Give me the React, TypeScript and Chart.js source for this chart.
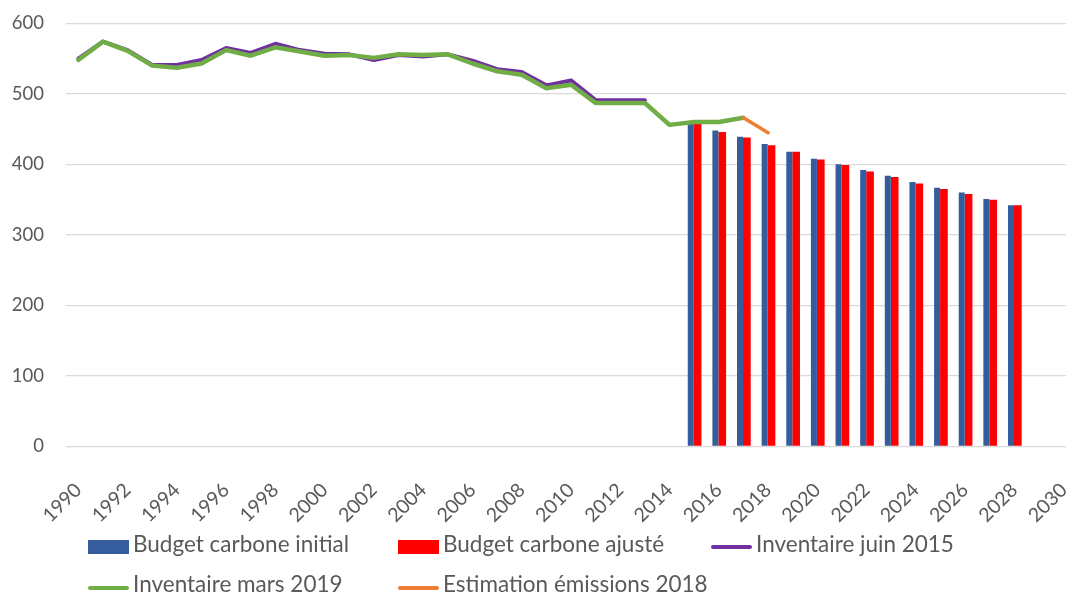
import React, { useEffect, useRef } from 'react';
import { Chart, registerables } from 'chart.js';

Chart.register(...registerables);

const FIRST_YEAR = 1990;
const LAST_YEAR = 2030;
const yearLabels: string[] = [];
for (let y = FIRST_YEAR; y <= LAST_YEAR; y++) yearLabels.push(String(y));

const Y_MIN = 0;
const Y_MAX = 600;
const Y_STEP = 100;

// Budget carbone initial (2015-2028)
const budgetInitialStart = 2015;
const budgetInitial = [458, 448, 439, 429, 418, 408, 400, 392, 384, 375, 367, 360, 351, 342];

// Budget carbone ajusté (2015-2028)
const budgetAjusteStart = 2015;
const budgetAjuste = [458, 446, 438, 427, 418, 407, 399, 390, 382, 373, 365, 358, 350, 342];

// Inventaire juin 2015 (1990-2013)
const inventaire2015Start = 1990;
const inventaire2015 = [
  550, 574, 562, 541, 541, 548, 565, 558, 571, 562, 557, 556,
  548, 555, 553, 556, 547, 535, 531, 512, 519, 491, 491, 491,
];

// Inventaire mars 2019 (1990-2017)
const inventaire2019Start = 1990;
const inventaire2019 = [
  548, 574, 561, 540, 537, 543, 562, 554, 566, 560, 554, 555,
  551, 556, 555, 556, 543, 532, 527, 508, 513, 487, 487, 487,
  456, 460, 460, 466,
];

// Estimation émissions 2018 (2017-2018)
const estimationStart = 2017;
const estimation2018 = [466, 445];

const seriesLabels = [
  'Budget carbone initial',
  'Budget carbone ajusté',
  'Inventaire juin 2015',
  'Inventaire mars 2019',
  'Estimation émissions 2018',
];
const seriesColors = ['#355c9c', '#ff0000', '#7030a0', '#70ad47', '#ed7d31'];

const TEXT_COLOR = '#595959';
const FONT = 'Lato, "Open Sans", sans-serif';

function alignToYears(start: number, values: number[]): (number | null)[] {
  return yearLabels.map((label) => {
    const i = Number(label) - start;
    return i >= 0 && i < values.length ? values[i] : null;
  });
}

const legendItems = [
  { idx: 0, kind: 'box', x: 88, row: 0 },
  { idx: 1, kind: 'box', x: 398, row: 0 },
  { idx: 2, kind: 'line', x: 711, row: 0 },
  { idx: 3, kind: 'line', x: 88, row: 1 },
  { idx: 4, kind: 'line', x: 398, row: 1 },
];
const rowBaseline = [553.3, 593];
const rowMarkerY = [547, 588];

export default function App() {
  const canvasRef = useRef<HTMLCanvasElement | null>(null);

  useEffect(() => {
    if (!canvasRef.current) return;
    const lineBase = {
      type: 'line',
      pointRadius: 0,
      tension: 0,
      borderCapStyle: 'round',
      borderJoinStyle: 'round',
      spanGaps: false,
    };
    const chart = new Chart(canvasRef.current, {
      type: 'bar',
      data: {
        labels: yearLabels,
        datasets: [
          {
            type: 'bar',
            label: seriesLabels[0],
            data: alignToYears(budgetInitialStart, budgetInitial),
            backgroundColor: seriesColors[0],
            categoryPercentage: 0.556,
            barPercentage: 0.876,
            order: 0,
          },
          {
            type: 'bar',
            label: seriesLabels[1],
            data: alignToYears(budgetAjusteStart, budgetAjuste),
            backgroundColor: seriesColors[1],
            categoryPercentage: 0.556,
            barPercentage: 1.124,
            order: 0,
          },
          {
            ...lineBase,
            label: seriesLabels[2],
            data: alignToYears(inventaire2015Start, inventaire2015),
            borderColor: seriesColors[2],
            backgroundColor: seriesColors[2],
            borderWidth: 4,
            order: -2,
          },
          {
            ...lineBase,
            label: seriesLabels[3],
            data: alignToYears(inventaire2019Start, inventaire2019),
            borderColor: seriesColors[3],
            backgroundColor: seriesColors[3],
            borderWidth: 4.5,
            order: -3,
          },
          {
            ...lineBase,
            label: seriesLabels[4],
            data: alignToYears(estimationStart, estimation2018),
            borderColor: seriesColors[4],
            backgroundColor: seriesColors[4],
            borderWidth: 3.5,
            order: -4,
          },
        ],
      } as any,
      options: {
        responsive: false,
        animation: false,
        devicePixelRatio: 1,
        layout: { autoPadding: false, padding: { top: 23.3, right: 1, left: 0, bottom: 0 } },
        plugins: {
          legend: { display: false },
          tooltip: { enabled: false },
        },
        scales: {
          x: {
            type: 'category',
            offset: true,
            grid: { display: false },
            border: { display: false },
            ticks: {
              autoSkip: false,
              maxRotation: 45,
              minRotation: 45,
              padding: 24,
              color: TEXT_COLOR,
              font: { family: FONT, size: 19.5 },
              callback: (_v: any, i: number) => {
                const y = FIRST_YEAR + i;
                return y % 2 === 0 ? String(y) : '';
              },
            },
            afterFit: (s: any) => {
              s.height = 152.5;
              s.paddingLeft = 0;
              s.paddingRight = 0;
            },
          },
          y: {
            min: Y_MIN,
            max: Y_MAX,
            ticks: {
              stepSize: Y_STEP,
              padding: 22,
              color: TEXT_COLOR,
              font: { family: FONT, size: 18.5 },
            },
            grid: { color: '#d9d9d9', lineWidth: 1.3, drawTicks: false },
            border: { display: false },
            afterFit: (s: any) => {
              s.width = 66;
              s.paddingTop = 0;
              s.paddingBottom = 0;
            },
          },
        },
      } as any,
    });
    return () => chart.destroy();
  }, []);

  return (
    <div
      style={{
        position: 'fixed',
        left: 0,
        top: 0,
        width: 1066,
        height: 599,
        overflow: 'hidden',
        background: '#ffffff',
      }}
    >
      <canvas
        ref={canvasRef}
        width={1077}
        height={599}
        style={{ position: 'absolute', left: 0, top: 0, width: 1077, height: 599 }}
      />
      {legendItems.map((item) => {
        const color = seriesColors[item.idx];
        const markerY = rowMarkerY[item.row];
        const marker =
          item.kind === 'box' ? (
            <div
              key={'m' + item.idx}
              style={{
                position: 'absolute',
                left: item.x,
                top: 540,
                width: 41,
                height: 14.3,
                background: color,
              }}
            />
          ) : (
            <div
              key={'m' + item.idx}
              style={{
                position: 'absolute',
                left: item.x,
                top: markerY - 2,
                width: 41,
                height: 4,
                borderRadius: 2,
                background: color,
              }}
            />
          );
        return (
          <React.Fragment key={item.idx}>
            {marker}
            <div
              style={{
                position: 'absolute',
                left: item.x + 45,
                top: rowBaseline[item.row] - 20,
                fontFamily: FONT,
                fontSize: 22.5,
                lineHeight: '22.5px',
                color: TEXT_COLOR,
                whiteSpace: 'nowrap',
              }}
            >
              {seriesLabels[item.idx]}
            </div>
          </React.Fragment>
        );
      })}
    </div>
  );
}
